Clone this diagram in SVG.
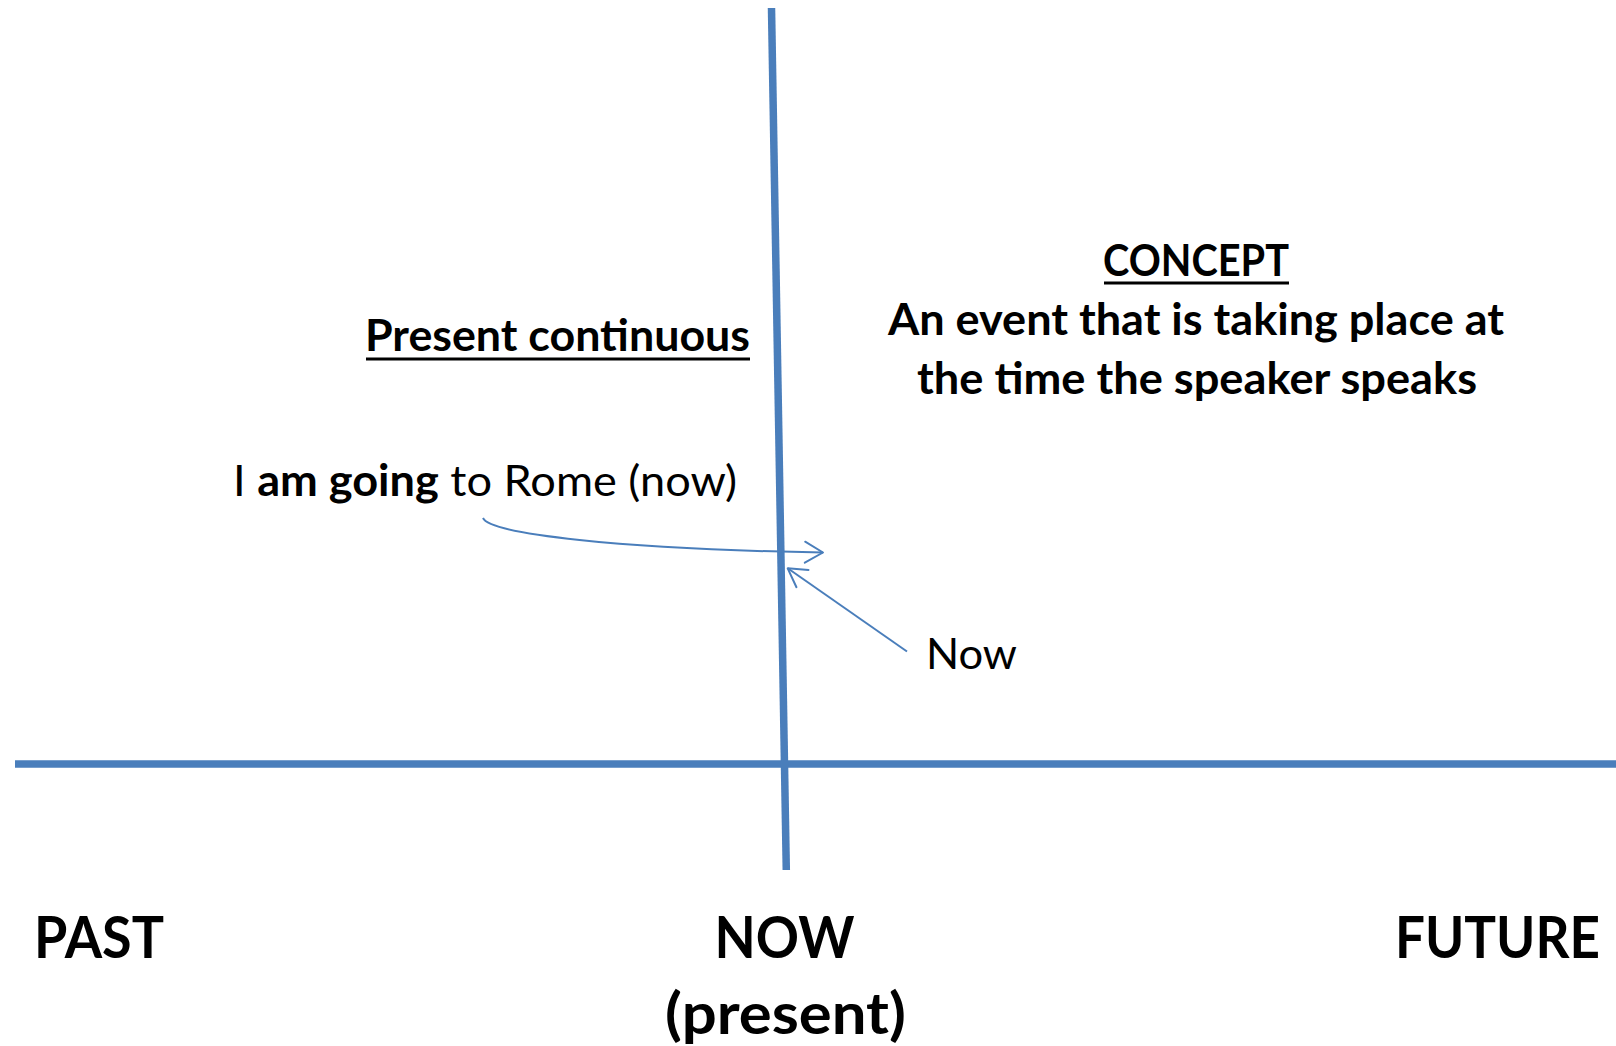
<svg xmlns="http://www.w3.org/2000/svg" width="1616" height="1046" viewBox="0 0 1616 1046">
  <style>
    .txt { font-family: Lato, "Open Sans", "Liberation Sans", sans-serif; fill: #000; }
    .b { font-weight: bold; }
    .mid { font-size: 43px; }
    .big { font-size: 57px; font-weight: bold; }
    .axis { stroke: #4A7EBB; stroke-width: 7.5; fill: none; stroke-linecap: butt; }
    .ul { stroke: #000; stroke-width: 3; }
    .conn { stroke: #4A7EBB; stroke-width: 2; fill: none; }
  </style>
  <defs>
    <marker id="open-arrow" viewBox="-21 -13 24 26" markerWidth="24" markerHeight="26" refX="0" refY="0" orient="auto" markerUnits="userSpaceOnUse">
      <path d="M -18 -10.5 L 0 0 L -18 10.5" fill="none" stroke="#4A7EBB" stroke-width="2" stroke-linecap="round" stroke-linejoin="round"/>
    </marker>
  </defs>

  <rect width="1616" height="1046" fill="#fff"/>

  <!-- time axis and the "now" marker line -->
  <g id="timeline">
    <line class="axis" x1="15" y1="764" x2="1616" y2="764"/>
    <line class="axis" x1="771.5" y1="8" x2="786.3" y2="870"/>
  </g>

  <g id="tense-title">
    <text class="txt mid b" x="365" y="351" textLength="385" lengthAdjust="spacingAndGlyphs">Present continuous</text>
    <line class="ul" x1="366" y1="359" x2="750" y2="359"/>
  </g>

  <g id="concept">
    <text class="txt mid b" x="1196" y="276" text-anchor="middle" textLength="186" lengthAdjust="spacingAndGlyphs">CONCEPT</text>
    <line class="ul" x1="1104" y1="283" x2="1289" y2="283"/>
    <text class="txt mid b" x="1196" y="335" text-anchor="middle" textLength="616" lengthAdjust="spacingAndGlyphs">An event that is taking place at</text>
    <text class="txt mid b" x="1197" y="394" text-anchor="middle" textLength="560" lengthAdjust="spacingAndGlyphs">the time the speaker speaks</text>
  </g>

  <g id="example">
    <text class="txt mid" x="233" y="496" textLength="504" lengthAdjust="spacingAndGlyphs">I <tspan class="b">am going</tspan> to Rome (now)</text>
  </g>

  <g id="now-note">
    <text class="txt mid" x="926" y="669" textLength="91" lengthAdjust="spacingAndGlyphs">Now</text>
  </g>

  <g id="label-past">
    <text class="txt big" x="34" y="958" textLength="130" lengthAdjust="spacingAndGlyphs">PAST</text>
  </g>

  <g id="label-now">
    <text class="txt big" x="784.5" y="958" text-anchor="middle" textLength="140" lengthAdjust="spacingAndGlyphs">NOW</text>
    <text class="txt big" x="785.5" y="1034" text-anchor="middle" textLength="241" lengthAdjust="spacingAndGlyphs">(present)</text>
  </g>

  <g id="label-future">
    <text class="txt big" x="1395" y="958" textLength="205" lengthAdjust="spacingAndGlyphs">FUTURE</text>
  </g>

  <!-- connectors -->
  <g id="connectors">
    <path class="conn" d="M 483 518 C 490 534, 620 549, 823 552.5" marker-end="url(#open-arrow)"/>
    <line class="conn" x1="907" y1="651.5" x2="787.7" y2="568.3" marker-end="url(#open-arrow)"/>
  </g>
</svg>
